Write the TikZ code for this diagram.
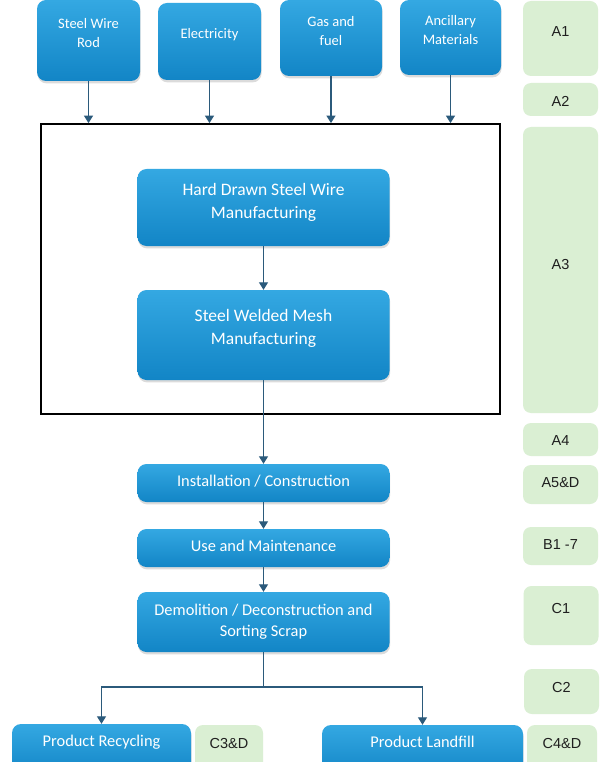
\documentclass[tikz,border=0pt]{standalone}
\usepackage{fontspec}
\newfontfamily\bfont{Carlito}
\newfontfamily\gfont{Liberation Sans}
\usetikzlibrary{arrows.meta,shadows}
\definecolor{btop}{HTML}{34A8E2}
\definecolor{bbot}{HTML}{1285C6}
\definecolor{gfill}{HTML}{DAEFD3}
\definecolor{arrc}{HTML}{2B5A7B}
\begin{document}
\begin{tikzpicture}[x=1pt,y=-1pt,
  bluebox/.style={rounded corners=9pt, top color=btop, bottom color=bbot, draw=none, inner sep=0pt,
    drop shadow={opacity=0.28, shadow xshift=0.6pt, shadow yshift=-2.4pt}},
  greenbox/.style={rounded corners=8pt, fill=gfill, draw=none, inner sep=0pt, minimum width=75pt},
  ttext/.style={text=white, align=center, inner sep=0pt, font=\bfont\fontsize{14.5}{19}\selectfont},
  mtext/.style={text=white, align=center, inner sep=0pt, font=\bfont\fontsize{17.5}{23}\selectfont},
  stext/.style={text=white, align=center, inner sep=0pt, font=\bfont\fontsize{16.4}{21}\selectfont},
  gtext/.style={text=black!88, inner sep=0pt, font=\gfont\fontsize{14.5}{16}\selectfont},
  arr/.style={draw=arrc, line width=1.3pt, -{Triangle[length=7.5pt,width=9pt]}}]
\clip (0,0) rectangle (606,762);
\fill[white] (0,0) rectangle (606,762);

% input boxes
\node[bluebox, minimum width=103pt, minimum height=81pt] (swr) at (88.5,40.5) {};
\node[ttext] (swrt) at (88.5,33) {Steel Wire\\Rod};
\node[bluebox, minimum width=103pt, minimum height=77pt] (elec) at (209.5,41.5) {};
\node[ttext] (elect) at (209.5,34.5) {Electricity};
\node[bluebox, minimum width=102pt, minimum height=76pt] (gas) at (331,38) {};
\node[ttext] (gast) at (331,31.5) {Gas and\\fuel};
\node[bluebox, minimum width=101pt, minimum height=75pt] (anc) at (450.5,37.5) {};
\node[ttext] (anct) at (450.5,30) {Ancillary\\Materials};

% frame
\node[draw=black, line width=1.8pt, minimum width=459pt, minimum height=290pt, inner sep=0pt] (frame) at (270.5,269) {};

% process boxes
\node[bluebox, minimum width=252pt, minimum height=77pt] (hd) at (263.5,207.5) {};
\node[mtext] (hdt) at (263.5,202) {Hard Drawn Steel Wire\\Manufacturing};
\node[bluebox, minimum width=252pt, minimum height=90pt] (mesh) at (263.5,335) {};
\node[mtext] (mesht) at (263.5,328.5) {Steel Welded Mesh\\Manufacturing};
\node[bluebox, minimum width=252pt, minimum height=38pt] (inst) at (263.5,483) {};
\node[stext] (instt) at (263.5,481) {Installation / Construction};
\node[bluebox, minimum width=252pt, minimum height=38pt] (use) at (263.5,548) {};
\node[stext] (uset) at (263.5,546) {Use and Maintenance};
\node[bluebox, minimum width=252pt, minimum height=60pt] (dem) at (263.5,622) {};
\node[stext] (demt) at (263.5,621.5) {Demolition / Deconstruction and\\Sorting Scrap};
\node[bluebox, minimum width=179pt, minimum height=52pt] (rec) at (101.5,750) {};
\node[stext] (rect) at (101.5,742) {Product Recycling};
\node[bluebox, minimum width=201pt, minimum height=52pt] (land) at (422.5,751) {};
\node[stext] (landt) at (422.5,742) {Product Landfill};

% stage boxes
\node[greenbox, minimum height=75pt] (a1) at (560.5,38.5) {};
\node[gtext] (a1t) at (560.5,32) {A1};
\node[greenbox, minimum height=33pt] (a2) at (560.5,99.5) {};
\node[gtext] (a2t) at (560.5,101) {A2};
\node[greenbox, minimum height=286pt] (a3) at (560.5,270) {};
\node[gtext] (a3t) at (560.5,265) {A3};
\node[greenbox, minimum height=33pt] (a4) at (560.5,439.5) {};
\node[gtext] (a4t) at (560.5,441) {A4};
\node[greenbox, minimum height=39pt] (a5) at (560.5,484.5) {};
\node[gtext] (a5t) at (560.5,483) {A5\&D};
\node[greenbox, minimum height=38pt] (b1) at (560.5,546) {};
\node[gtext] (b1t) at (560.5,545) {B1 -7};
\node[greenbox, minimum height=59pt] (c1) at (561,615.5) {};
\node[gtext] (c1t) at (561,609) {C1};
\node[greenbox, minimum height=45pt] (c2) at (561.5,691.5) {};
\node[gtext] (c2t) at (561.5,688) {C2};
\node[greenbox, minimum width=70pt, minimum height=48pt] (c4) at (562,749) {};
\node[gtext] (c4t) at (562,743) {C4\&D};
\node[greenbox, minimum width=68pt, minimum height=48pt] (c3) at (229,749) {};
\node[gtext] (c3t) at (229,743) {C3\&D};

% connectors
\draw[arr] (swr.south) -- (swr.south |- frame.north);
\draw[arr] (elec.south) -- (elec.south |- frame.north);
\draw[arr] (gas.south) -- (gas.south |- frame.north);
\draw[arr] (anc.south) -- (anc.south |- frame.north);
\draw[arr] (hd.south) -- (mesh.north);
\draw[arr] (mesh.south) -- (inst.north);
\draw[arr] (inst.south) -- (use.north);
\draw[arr] (use.south) -- (dem.north);
\coordinate (split) at (263.5,687);
\draw[arr] (dem.south) -- (split) -| (rec.north);
\draw[arr] (split) -| (land.north);
\end{tikzpicture}
\end{document}
